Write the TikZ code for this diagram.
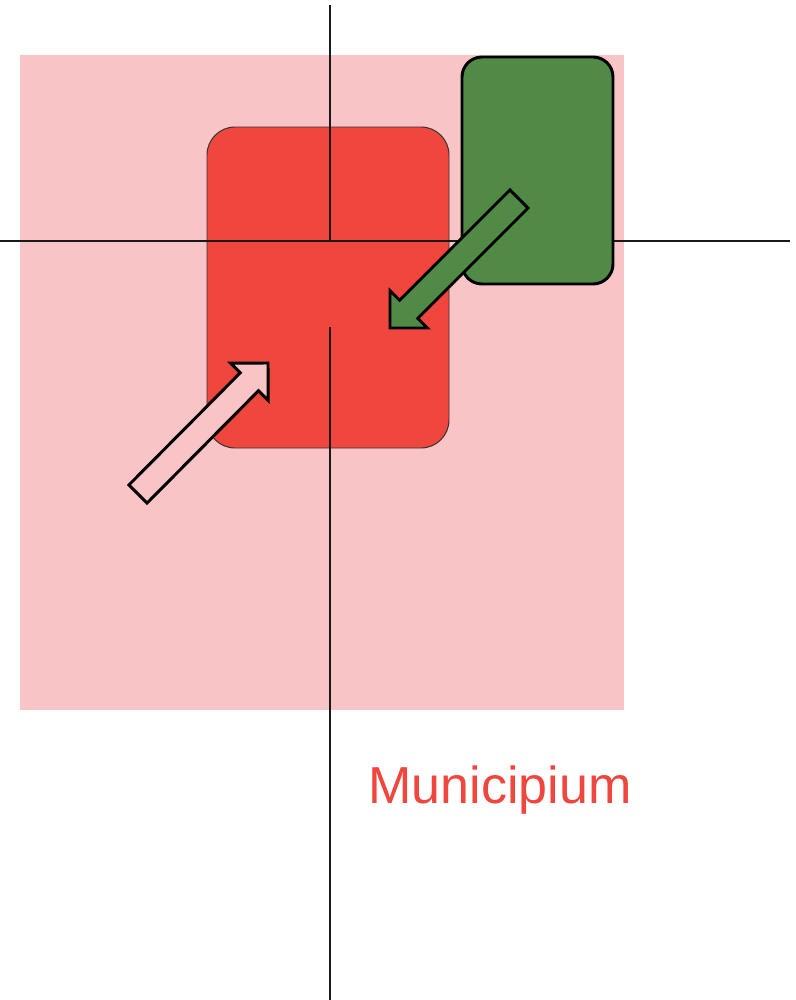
\documentclass[tikz,border=0pt]{standalone}
\usepackage{fontspec}
\setmainfont{Liberation Sans}
\usetikzlibrary{calc}
\definecolor{areapink}{HTML}{F8C4C6}
\definecolor{munired}{HTML}{EF463E}
\definecolor{villagegreen}{HTML}{518A47}
\tikzstyle{axis} = [draw=black!90, line width=1.05pt]
\tikzstyle{redbox} = [draw=black!80, fill=munired, line width=0.7pt, rounded corners=0.7cm]
\tikzstyle{greenbox} = [draw=black, fill=villagegreen, line width=2.1pt, rounded corners=0.5cm]
\tikzstyle{blockarrow} = [draw=black, line width=2.1pt, line join=miter]
\tikzstyle{label} = [text=munired, font=\fontsize{37}{40}\selectfont, inner sep=0pt]

% block arrow from tail #2 to tip #3
\newcommand\blockarrow[3]{%
  \path (#2) coordinate (t) (#3) coordinate (h) ($(h)!\hl!(t)$) coordinate (m);
  \draw[blockarrow, #1] ($(t)!\sw!90:(h)$) -- ($(m)!\sw!-90:(t)$) -- ($(m)!\hw!-90:(t)$)
    -- (h) -- ($(m)!\hw!90:(t)$) -- ($(m)!\sw!90:(t)$) -- ($(t)!\sw!-90:(h)$) -- cycle;
}

\begin{document}
\begin{tikzpicture}[x=0.025cm, y=-0.025cm]
  \def\sw{0.32cm}; \def\hw{0.66cm}; \def\hl{0.66cm};
  \useasboundingbox (0,0) rectangle (796,1000);

  % the area and the town
  \fill[areapink] (20,55) rectangle (624,710);
  \draw[redbox] (207,127) rectangle (449,448);
  \draw[axis] (0,241) -- (790,241);
  \draw[axis] (330,5) -- (330,242);
  \draw[axis] (330,327) -- (330,1000);
  \draw[greenbox] (462,57) rectangle (613,284);

  % movements
  \blockarrow{fill=villagegreen}{519,199}{390,328}
  \blockarrow{fill=areapink}{138,494}{268,363}

  \node[label] (muni) at (500,790) {Municipium};
\end{tikzpicture}
\end{document}
